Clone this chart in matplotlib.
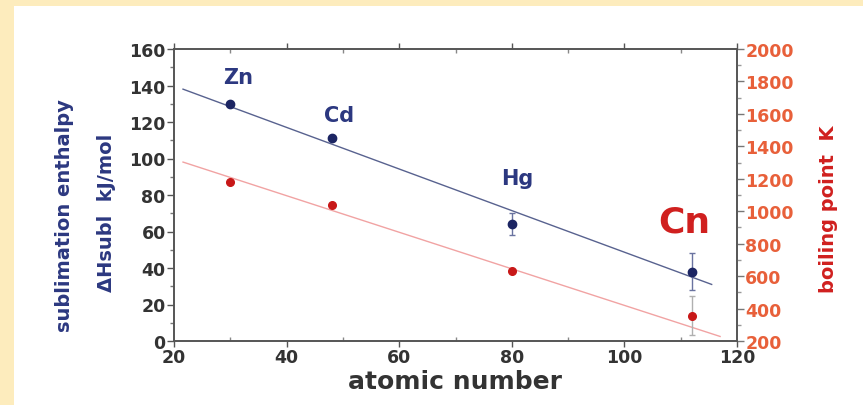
import matplotlib.pyplot as plt
from matplotlib.patches import Rectangle
from matplotlib.ticker import MultipleLocator

# Datos
elementos = ['Zn', 'Cd', 'Hg', 'Cn']
numero_atomico = [30, 48, 80, 112]
entalpia = [130, 111, 64, 38]          # kJ/mol
entalpia_err = [0, 0, 6, 10]
ebullicion = [1180, 1040, 630, 355]    # K
ebullicion_err = [0, 0, 0, 120]

# Rectas de ajuste (extremos)
ajuste_ent_x = [21.6, 115.5]
ajuste_ent_y = [138, 31]
ajuste_ebu_x = [21.6, 117]
ajuste_ebu_y = [1303, 228]

# Posiciones de las etiquetas de los elementos (x, y en kJ/mol)
etiqueta_x = [31.4, 49.3, 80.9, 110.6]
etiqueta_y = [144.5, 123.8, 89.5, 65.7]

AZUL = '#2c3880'
AZUL_PUNTO = '#1c2563'
ROJO = '#d0201f'
NARANJA = '#e8603a'
GRIS = '#333333'

plt.rcParams['font.family'] = ['DejaVu Sans']
plt.rcParams['font.weight'] = 'bold'

fig = plt.figure(figsize=(8.63, 4.06), dpi=100)
fig.patch.set_facecolor('white')
# marco amarillo (izquierda y arriba)
fig.patches.append(Rectangle((0, 0), 14 / 863, 1, transform=fig.transFigure,
                             facecolor='#fdecbd', edgecolor='none', zorder=-5))
fig.patches.append(Rectangle((0, 1 - 7 / 406), 1, 7 / 406, transform=fig.transFigure,
                             facecolor='#fdecbd', edgecolor='none', zorder=-5))

ax = fig.add_axes([174 / 863, 64 / 406, 563 / 863, 292 / 406])
ax2 = ax.twinx()

# Entalpia (eje izquierdo)
ax.plot(ajuste_ent_x, ajuste_ent_y, color='#58628f', linewidth=1.0, zorder=2)
ax.errorbar(numero_atomico, entalpia, yerr=entalpia_err, fmt='o', color=AZUL_PUNTO,
            markersize=6, ecolor='#6a73a0', elinewidth=1.0, capsize=2, zorder=3)

# Punto de ebullicion (eje derecho)
ax2.plot(ajuste_ebu_x, ajuste_ebu_y, color='#f1a3a3', linewidth=1.0, zorder=2)
ax2.errorbar(numero_atomico, ebullicion, yerr=ebullicion_err, fmt='o', color='#c81818',
             markersize=5.5, ecolor='#b0b0b0', elinewidth=1.0, capsize=2, zorder=3)

for i in range(len(elementos)):
    if elementos[i] == 'Cn':
        ax.text(etiqueta_x[i], etiqueta_y[i], elementos[i], color=ROJO, fontsize=26,
                fontweight='bold', ha='center', va='center')
    else:
        ax.text(etiqueta_x[i], etiqueta_y[i], elementos[i], color=AZUL, fontsize=15,
                fontweight='bold', ha='center', va='center')

ax.set_xlim(20, 120)
ax.set_ylim(0, 160)
ax2.set_ylim(200, 2000)

ax.xaxis.set_major_locator(MultipleLocator(20))
ax.xaxis.set_minor_locator(MultipleLocator(10))
ax.yaxis.set_major_locator(MultipleLocator(20))
ax.yaxis.set_minor_locator(MultipleLocator(10))
ax2.yaxis.set_major_locator(MultipleLocator(200))
ax2.yaxis.set_minor_locator(MultipleLocator(100))

ax.tick_params(axis='x', which='major', direction='out', length=4, width=1, color='#555555',
               labelsize=12.5, labelcolor=GRIS, pad=1, top=True)
ax.tick_params(axis='x', which='minor', direction='in', length=3, width=1, color='#888888',
               top=True)
ax.tick_params(axis='y', which='major', direction='out', length=5, width=1, color='#555555',
               labelsize=12.5, labelcolor=GRIS, pad=1)
ax.tick_params(axis='y', which='minor', direction='out', length=3, width=1, color='#777777')
ax2.tick_params(axis='y', which='major', direction='out', length=5, width=1, color='#777777',
                labelsize=12.5, labelcolor=NARANJA, pad=1)
ax2.tick_params(axis='y', which='minor', direction='out', length=3, width=1, color='#999999')

for a in (ax, ax2):
    for s in a.spines.values():
        s.set_color('#555555')
        s.set_linewidth(1.2)

ax.set_xlabel('atomic number', fontsize=18, fontweight='bold', color=GRIS, labelpad=2)

fig.text(65 / 863, 1 - 216 / 406, 'sublimation enthalpy', rotation=90, color=AZUL,
         fontsize=14, fontweight='bold', ha='center', va='center')
fig.text(106 / 863, 1 - 213 / 406, 'ΔHsubl  kJ/mol', rotation=90, color=AZUL,
         fontsize=14, fontweight='bold', ha='center', va='center')
fig.text(828 / 863, 1 - 209 / 406, 'boiling point  K', rotation=90, color=ROJO,
         fontsize=14, fontweight='bold', ha='center', va='center')

fig.savefig('out.png', dpi=100)
